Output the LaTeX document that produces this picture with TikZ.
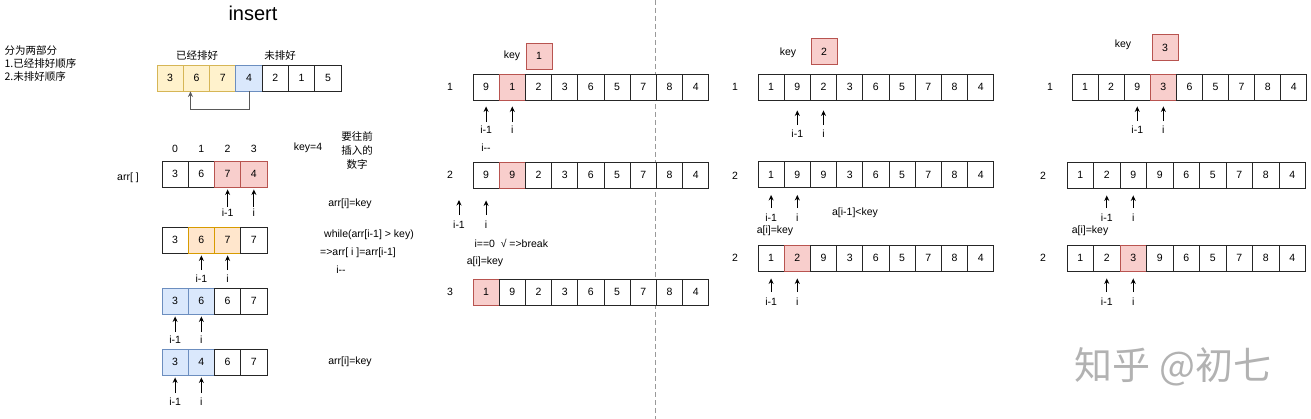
\documentclass[tikz,border=0pt]{standalone}
\usepackage{fontspec}
\setmainfont{Liberation Sans}
\newfontfamily\cjk{Noto Sans CJK SC}
\usetikzlibrary{arrows.meta,positioning}
\definecolor{dyfill}{HTML}{FFF2CC}
\definecolor{dyline}{HTML}{D6B656}
\definecolor{dbfill}{HTML}{DAE8FC}
\definecolor{dbline}{HTML}{6C8EBF}
\definecolor{drfill}{HTML}{F8CECC}
\definecolor{drline}{HTML}{B85450}
\definecolor{dofill}{HTML}{FFE6CC}
\definecolor{doline}{HTML}{D79B00}
\newcommand{\lbl}{\fontsize{10.5}{12.5}\selectfont}

\begin{document}
\begin{tikzpicture}[
  x=1pt,y=-1pt,
  every node/.style={font=\lbl},
  cell/.style={draw=black!85,fill=white,line width=0.9pt,minimum height=26pt,inner sep=0pt},
  plain/.style={},
  yelc/.style={fill=dyfill,draw=dyline},
  bluc/.style={fill=dbfill,draw=dbline},
  redc/.style={fill=drfill,draw=drline},
  orgc/.style={fill=dofill,draw=doline},
  ptr/.style={inner sep=1pt,text height=7.5pt,text depth=0pt},
  arr/.style={-{Stealth[length=5.5pt,width=5pt]},line width=0.9pt},
]
  \useasboundingbox (0,0) rectangle (1311,419);

  % Divider
  \coordinate (cut-top) at (655,0);
  \coordinate (cut-bot) at (655,419);
  \draw[black!40,dash pattern=on 5pt off 3pt] (cut-top) -- (cut-bot);

  % Title and intro
  \node[font=\fontsize{20}{24}\selectfont] (title) at (253,13) {insert};
  \node[font=\cjk\fontsize{10.5}{13}\selectfont,align=left,anchor=west] (intro) at (1,64)
    {分为两部分\\1.已经排好顺序\\2.未排好顺序};

  % Sorted / unsorted split
  \foreach \v/\s [count=\k] in {3/yelc,6/yelc,7/yelc,4/bluc,2/plain,1/plain,5/plain}
    \node[cell,\s,minimum width=26.3pt] (t-\k) at ({157+26.3*(\k-0.5)},78) {\v};
  \node[font=\cjk\lbl] (sorted) at (197,56) {已经排好};
  \node[font=\cjk\lbl] (unsorted) at (280,56) {未排好};
  \draw[arr,draw=black!65] (t-4.south) -- ++(0,18) -| ([xshift=-6pt]t-2.south);

  % Walk-through with key=4
  \foreach \v/\s [count=\k] in {3/plain,6/plain,7/redc,4/redc}
    \node[cell,\s,minimum width=26.25pt] (a-\k) at ({162+26.25*(\k-0.5)},174) {\v};
  \foreach \k [evaluate=\k as \n using int(\k-1)] in {1,...,4}
    \node[ptr,above=7pt of a-\k] (ix-\k) {\n};
  \foreach \v/\s [count=\k] in {3/plain,6/orgc,7/orgc,7/plain}
    \node[cell,\s,minimum width=26.25pt] (b-\k) at ({162+26.25*(\k-0.5)},240) {\v};
  \foreach \v/\s [count=\k] in {3/bluc,6/bluc,6/plain,7/plain}
    \node[cell,\s,minimum width=26.25pt] (c-\k) at ({162+26.25*(\k-0.5)},301) {\v};
  \foreach \v/\s [count=\k] in {3/bluc,4/bluc,6/plain,7/plain}
    \node[cell,\s,minimum width=26.25pt] (d-\k) at ({162+26.25*(\k-0.5)},362) {\v};

  \foreach \c/\t/\n in {3/i-1/p1,4/i/p2} {
    \node[ptr] (a-\n) at (a-\c |- 0,213) {\t};
    \draw[arr,shorten <=1pt,shorten >=2pt] (a-\n.north) -- (a-\c.south);
  }
  \foreach \c/\t/\n in {2/i-1/p1,3/i/p2} {
    \node[ptr] (b-\n) at (b-\c |- 0,279) {\t};
    \draw[arr,shorten <=4pt,shorten >=2pt] (b-\n.north) -- (b-\c.south);
  }
  \foreach \c/\t/\n in {1/i-1/p1,2/i/p2} {
    \node[ptr] (c-\n) at (c-\c |- 0,340) {\t};
    \draw[arr,shorten <=3pt,shorten >=2pt] (c-\n.north) -- (c-\c.south);
    \node[ptr] (d-\n) at (d-\c |- 0,402) {\t};
    \draw[arr,shorten <=4pt,shorten >=2pt] (d-\n.north) -- (d-\c.south);
  }

  \node (arrlbl) at (128,178) {arr[ ]};
  \node (keyfour) at (308,148) {key=4};
  \node[font=\cjk\fontsize{10.5}{14}\selectfont,align=center] (note) at (357,151)
    {要往前\\插入的\\数字};
  \node (set1) at (350,204) {arr[i]=key};
  \node (loop) at (369,235) {while(arr[i-1] > key)};
  \node (shift) at (358,253) {=>arr[ i ]=arr[i-1]};
  \node (dec1) at (341,270) {i-{}-};
  \node (set2) at (350,362) {arr[i]=key};

  % Pass key=1
  \node (mkey) at (512,56) {key};
  \node[cell,redc,minimum width=26pt] (mk) at (539,56) {1};
  \foreach \v/\s [count=\k] in {9/plain,1/redc,2/plain,3/plain,6/plain,5/plain,7/plain,8/plain,4/plain}
    \node[cell,\s,minimum width=26.2pt] (m1-\k) at ({473+26.2*(\k-0.5)},87) {\v};
  \foreach \v/\s [count=\k] in {9/plain,9/redc,2/plain,3/plain,6/plain,5/plain,7/plain,8/plain,4/plain}
    \node[cell,\s,minimum width=26.2pt] (m2-\k) at ({473+26.2*(\k-0.5)},175) {\v};
  \foreach \v/\s [count=\k] in {1/redc,9/plain,2/plain,3/plain,6/plain,5/plain,7/plain,8/plain,4/plain}
    \node[cell,\s,minimum width=26.2pt] (m3-\k) at ({473+26.2*(\k-0.5)},292) {\v};
  \node (mrow1) at (450,87) {1};
  \node (mrow2) at (450,175) {2};
  \node (mrow3) at (450,292) {3};
  \coordinate (m2-0) at (459,188);

  \foreach \c/\t/\n in {1/i-1/p1,2/i/p2} {
    \node[ptr] (m1-\n) at (m1-\c |- 0,130) {\t};
    \draw[arr,shorten <=3pt,shorten >=6pt] (m1-\n.north) -- (m1-\c.south);
  }
  \foreach \c/\t/\n in {0/i-1/p1,1/i/p2} {
    \node[ptr] (m2-\n) at (m2-\c |- 0,225) {\t};
    \draw[arr,shorten <=5pt,shorten >=12pt] (m2-\n.north) -- (m2-\c);
  }
  \node (dec2) at (486,148) {i-{}-};
  \node[anchor=west] (brk) at (471,243) {i==0 \ √ =>break};
  \node (set3) at (485,262) {a[i]=key};

  % Pass key=2
  \node (pkey) at (788,53) {key};
  \node[cell,redc,minimum width=26pt] (pk) at (824,51.5) {2};
  \foreach \v/\s [count=\k] in {1/plain,9/plain,2/plain,3/plain,6/plain,5/plain,7/plain,8/plain,4/plain}
    \node[cell,\s,minimum width=26.2pt] (p1-\k) at ({758+26.2*(\k-0.5)},87) {\v};
  \foreach \v/\s [count=\k] in {1/plain,9/plain,9/plain,3/plain,6/plain,5/plain,7/plain,8/plain,4/plain}
    \node[cell,\s,minimum width=26.2pt] (p2-\k) at ({758+26.2*(\k-0.5)},174.5) {\v};
  \foreach \v/\s [count=\k] in {1/plain,2/redc,9/plain,3/plain,6/plain,5/plain,7/plain,8/plain,4/plain}
    \node[cell,\s,minimum width=26.2pt] (p3-\k) at ({758+26.2*(\k-0.5)},258) {\v};
  \node (prow1) at (735,87) {1};
  \node (prow2) at (735,176) {2};
  \node (prow3) at (735,258) {2};

  \foreach \c/\t/\n in {2/i-1/p1,3/i/p2} {
    \node[ptr] (p1-\n) at (p1-\c |- 0,134) {\t};
    \draw[arr,shorten <=4pt,shorten >=10pt] (p1-\n.north) -- (p1-\c.south);
  }
  \foreach \c/\t/\n in {1/i-1/p1,2/i/p2} {
    \node[ptr] (p2-\n) at (p2-\c |- 0,218) {\t};
    \draw[arr,shorten <=5pt,shorten >=7pt] (p2-\n.north) -- (p2-\c.south);
    \node[ptr] (p3-\n) at (p3-\c |- 0,302) {\t};
    \draw[arr,shorten <=5pt,shorten >=7pt] (p3-\n.north) -- (p3-\c.south);
  }
  \node (less) at (855,213) {a[i-1]<key};
  \node (set4) at (775,231) {a[i]=key};

  % Pass key=3
  \node (qkey) at (1123,45) {key};
  \node[cell,redc,minimum width=26pt] (qk) at (1165,47.5) {3};
  \foreach \v/\s [count=\k] in {1/plain,2/plain,9/plain,3/redc,6/plain,5/plain,7/plain,8/plain,4/plain}
    \node[cell,\s,minimum width=26.1pt] (q1-\k) at ({1072+26.1*(\k-0.5)},87) {\v};
  \foreach \v/\s [count=\k] in {1/plain,2/plain,9/plain,9/plain,6/plain,5/plain,7/plain,8/plain,4/plain}
    \node[cell,\s,minimum width=26.5pt] (q2-\k) at ({1067+26.5*(\k-0.5)},175) {\v};
  \foreach \v/\s [count=\k] in {1/plain,2/plain,3/redc,9/plain,6/plain,5/plain,7/plain,8/plain,4/plain}
    \node[cell,\s,minimum width=26.5pt] (q3-\k) at ({1067+26.5*(\k-0.5)},258) {\v};
  \node (qrow1) at (1050,87) {1};
  \node (qrow2) at (1043,176) {2};
  \node (qrow3) at (1043,258) {2};

  \foreach \c/\t/\n in {3/i-1/p1,4/i/p2} {
    \node[ptr] (q1-\n) at (q1-\c |- 0,130) {\t};
    \draw[arr,shorten <=4pt,shorten >=6pt] (q1-\n.north) -- (q1-\c.south);
  }
  \foreach \c/\t/\n in {2/i-1/p1,3/i/p2} {
    \node[ptr] (q2-\n) at (q2-\c |- 0,218) {\t};
    \draw[arr,shorten <=5pt,shorten >=7pt] (q2-\n.north) -- (q2-\c.south);
    \node[ptr] (q3-\n) at (q3-\c |- 0,302) {\t};
    \draw[arr,shorten <=5pt,shorten >=7pt] (q3-\n.north) -- (q3-\c.south);
  }
  \node (set5) at (1090,231) {a[i]=key};

  % Watermark
  \node[font=\cjk\fontsize{38}{40}\selectfont,text=black!30] (wm) at (1173,367) {知乎 @初七};
\end{tikzpicture}
\end{document}
